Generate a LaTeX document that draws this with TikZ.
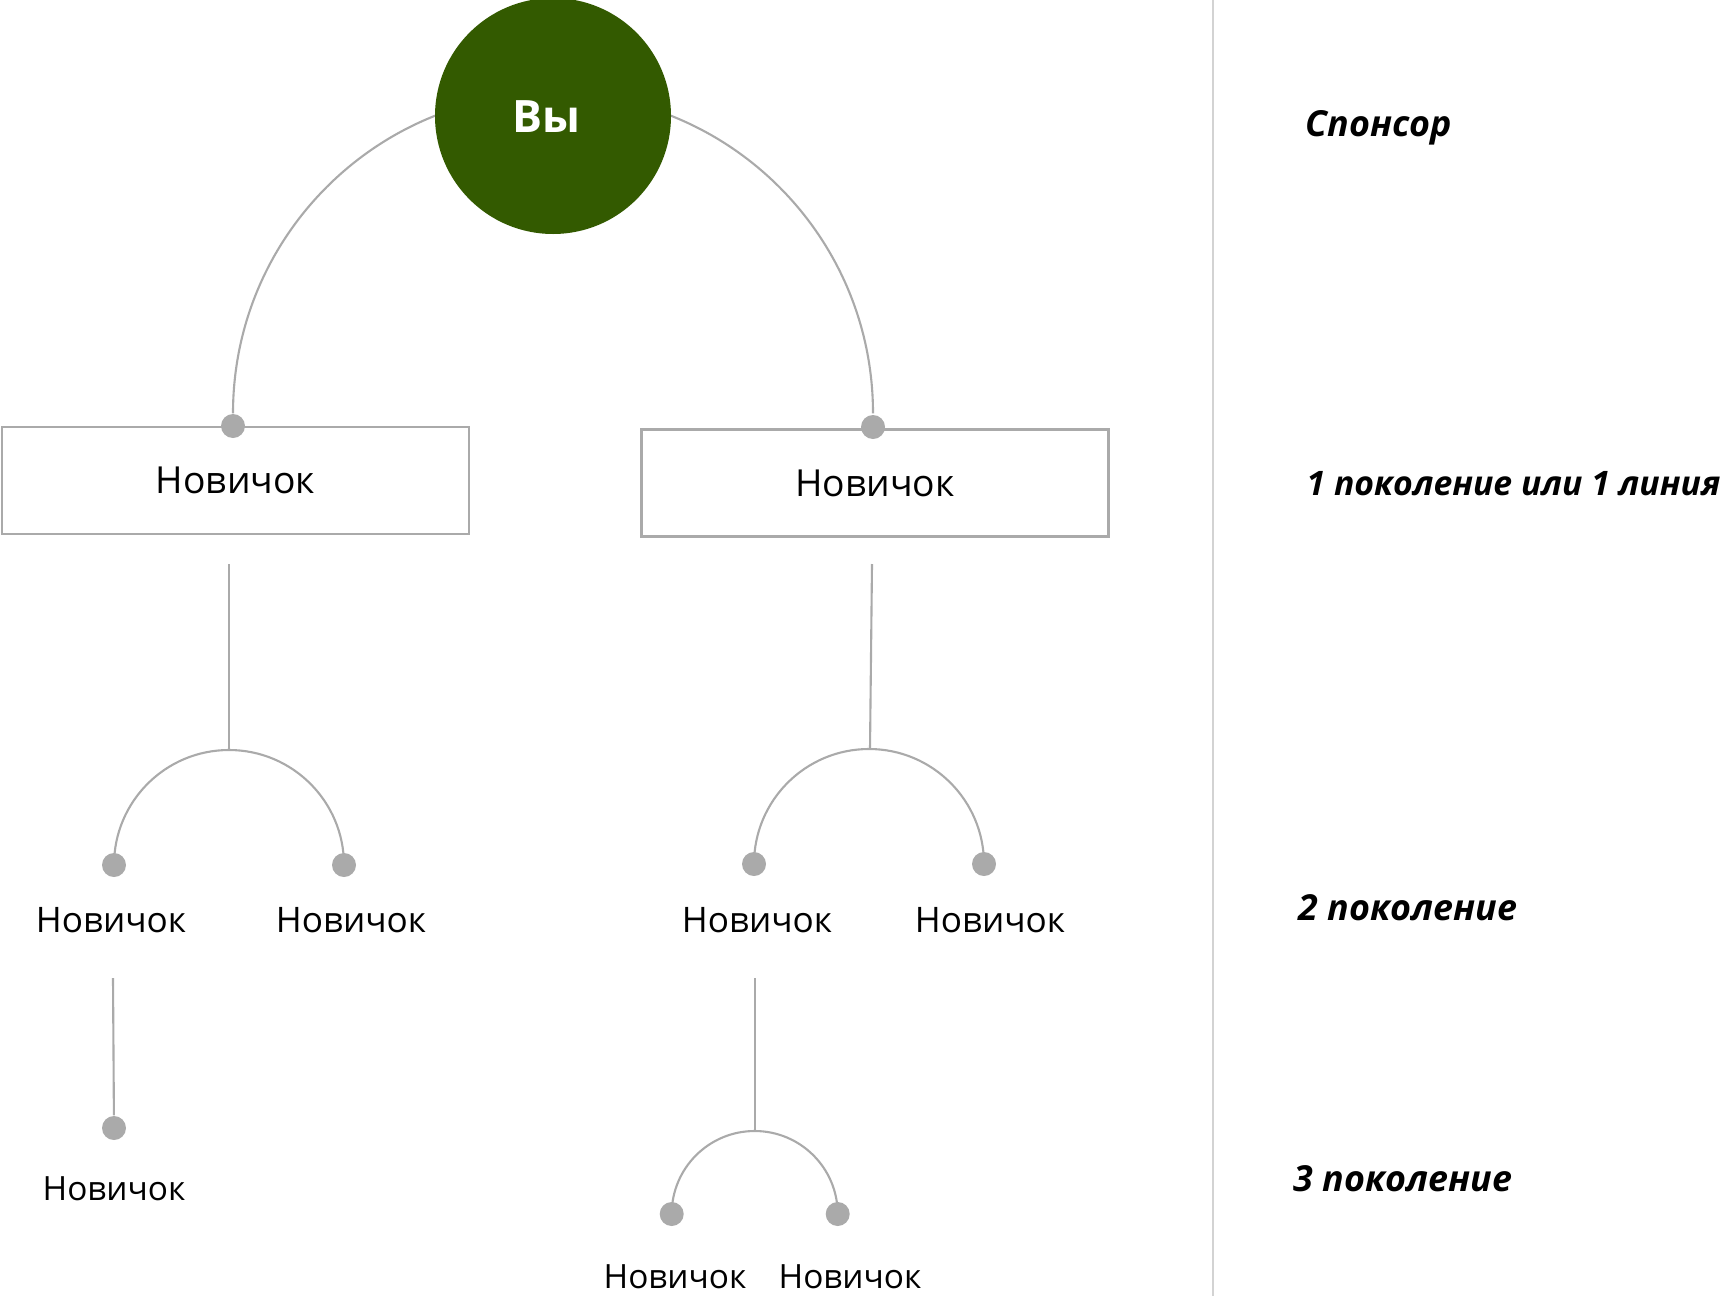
\documentclass[tikz,border=0pt]{standalone}
\usepackage{fontspec}
\setmainfont{Open Sans}
\definecolor{yougreen}{HTML}{335A00}
\definecolor{linkgray}{HTML}{AAAAAA}
\definecolor{sepgray}{HTML}{D3D3D3}
\tikzset{
  link/.style={draw=linkgray, line width=0.6pt},
  knot/.style={circle, fill=linkgray, inner sep=0pt, minimum size=0.24cm},
  newbox/.style={draw=linkgray, line width=0.65pt, minimum width=4.67cm, minimum height=1.07cm, font=\fontsize{10.6}{12}\selectfont},
  newlbl/.style={font=\fontsize{10}{12}\selectfont, inner sep=0pt},
  smalllbl/.style={font=\fontsize{9.5}{12}\selectfont, inner sep=0pt},
  lvl/.style={font=\fontsize{10.2}{12}\selectfont\bfseries\itshape, anchor=base west, inner sep=0pt}
}
\begin{document}
\begin{tikzpicture}
\useasboundingbox (0,0) rectangle (17.26,-12.96);
% level column
\draw[sepgray, line width=0.57pt] (12.13,0) -- (12.13,-12.96);
\node[lvl] (lv0) at (13.05,-1.367) {Спонсор};
\node[lvl, font=\fontsize{9.6}{12}\selectfont\bfseries\itshape] (lv1) at (13.06,-4.95) {1 поколение или 1 линия};
\node[lvl] (lv2) at (12.98,-9.20) {2 поколение};
\node[lvl] (lv3) at (12.93,-11.917) {3 поколение};
% first line
\node[newbox] (n1) at (2.355,-4.805) {Новичок};
\node[newbox] (n2) at (8.75,-4.83) {Новичок};
\node[knot] (d1) at (2.33,-4.26) {};
\node[knot] (d2) at (8.73,-4.27) {};
\draw[link] (d1.north) arc[start angle=180, end angle=0, radius=3.2];
\node[circle, fill=yougreen, minimum size=2.36cm, inner sep=0pt] (you) at (5.53,-1.16) {};
\node[text=white, font=\fontsize{12.7}{14}\selectfont\bfseries] (youlbl) at (5.46,-1.17) {Вы};
% second line, left
\coordinate (a1) at (2.29,-5.64);
\coordinate (j1) at (2.29,-7.50);
\draw[link] (a1) -- (j1);
\draw[link] (1.14,-8.65) arc[start angle=180, end angle=0, radius=1.15];
\node[knot] (d21) at (1.14,-8.65) {};
\node[knot] (d22) at (3.44,-8.65) {};
\node[newlbl] (t21) at (1.11,-9.20) {Новичок};
\node[newlbl] (t22) at (3.51,-9.20) {Новичок};
% second line, right
\coordinate (a2) at (8.72,-5.64);
\coordinate (j2) at (8.70,-7.49);
\draw[link] (a2) -- (j2);
\draw[link] (7.54,-8.64) arc[start angle=180, end angle=0, radius=1.15];
\node[knot] (d23) at (7.54,-8.64) {};
\node[knot] (d24) at (9.84,-8.64) {};
\node[newlbl] (t23) at (7.57,-9.20) {Новичок};
\node[newlbl] (t24) at (9.90,-9.20) {Новичок};
% third line, left
\coordinate (a3) at (1.13,-9.78);
\node[knot] (d31) at (1.14,-11.28) {};
\draw[link] (a3) -- (d31);
\node[smalllbl] (t31) at (1.14,-11.89) {Новичок};
% third line, right
\coordinate (a4) at (7.55,-9.78);
\coordinate (j4) at (7.55,-11.31);
\draw[link] (a4) -- (j4);
\draw[link] (6.717,-12.14) arc[start angle=180, end angle=0, radius=0.83];
\node[knot] (d32) at (6.717,-12.14) {};
\node[knot] (d33) at (8.377,-12.14) {};
\node[smalllbl] (t32) at (6.75,-12.77) {Новичок};
\node[smalllbl] (t33) at (8.50,-12.77) {Новичок};
\end{tikzpicture}
\end{document}
